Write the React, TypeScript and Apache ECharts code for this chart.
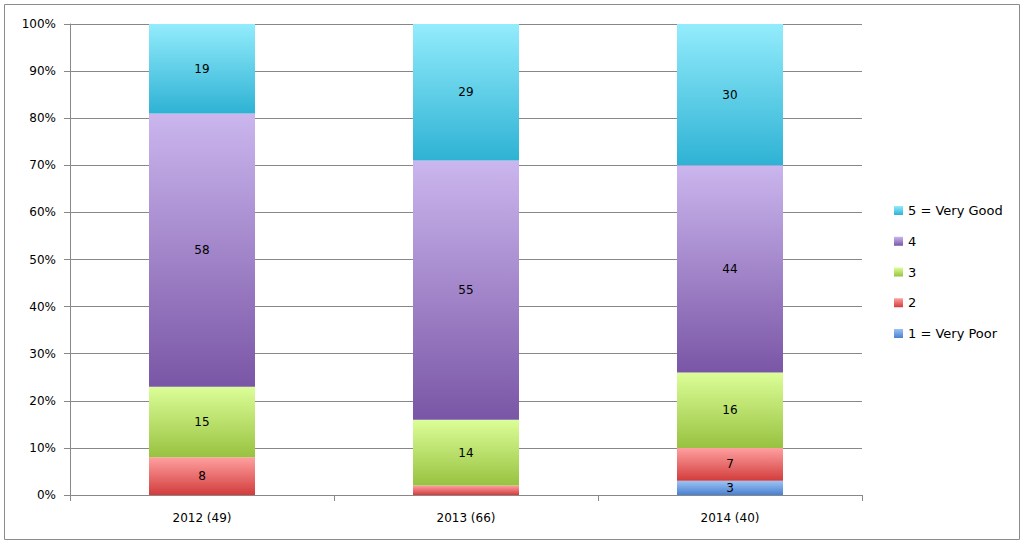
import React, { useEffect, useRef } from "react";
import * as echarts from "echarts";

const categories = ["2012 (49)", "2013 (66)", "2014 (40)"];
const seriesNames = ["1 = Very Poor", "2", "3", "4", "5 = Very Good"];
const veryPoor = [0, 0, 3];
const two = [8, 2, 7];
const three = [15, 14, 16];
const four = [58, 55, 44];
const veryGood = [19, 29, 30];
const hiddenLabels: number[][] = [[], [1], [], [], []];
const yTicks = [0, 10, 20, 30, 40, 50, 60, 70, 80, 90, 100];

const gradients = [
  ["#9cc3f5", "#4a80cf"],
  ["#ffa0a0", "#d23c3c"],
  ["#dcfe98", "#98c240"],
  ["#cbb6ee", "#7a56a6"],
  ["#93ecfc", "#2eb2d4"],
];

export default function App() {
  const ref = useRef<HTMLDivElement>(null);
  useEffect(() => {
    document.body.style.margin = "0";
    const chart = echarts.init(ref.current!, null, { renderer: "svg" });
    const all = [veryPoor, two, three, four, veryGood];
    const font = "DejaVu Sans";
    const series = all.map((vals, i) => ({
      name: seriesNames[i],
      type: "bar",
      stack: "total",
      barWidth: 106,
      itemStyle: {
        color: new echarts.graphic.LinearGradient(0, 0, 0, 1, [
          { offset: 0, color: gradients[i][0] },
          { offset: 1, color: gradients[i][1] },
        ]),
      },
      label: {
        show: true,
        position: "inside",
        color: "#000",
        fontFamily: font,
        fontSize: 12,
        formatter: (p: any) => (p.value ? String(p.value) : ""),
      },
      data: vals.map((v, j) =>
        hiddenLabels[i].includes(j) ? { value: v, label: { show: false } } : v
      ),
    }));
    chart.setOption({
      animation: false,
      graphic: [
        {
          type: "rect",
          shape: { x: 4.5, y: 4.5, width: 1015, height: 535 },
          style: { fill: "none", stroke: "#8c8c8c", lineWidth: 1 },
          silent: true,
        },
      ],
      grid: { left: 70, right: 162, top: 24, bottom: 53 },
      legend: {
        orient: "vertical",
        left: 889,
        top: 199,
        itemWidth: 9,
        itemHeight: 9,
        itemGap: 17.75,
        icon: "rect",
        data: [...seriesNames].reverse(),
        textStyle: { fontFamily: font, fontSize: 13, color: "#000" },
      },
      xAxis: {
        type: "category",
        data: categories,
        axisLine: { lineStyle: { color: "#888" } },
        axisTick: { show: true, length: 6, lineStyle: { color: "#888" } },
        axisLabel: { fontFamily: font, fontSize: 12, color: "#000", margin: 17 },
      },
      yAxis: {
        type: "value",
        min: yTicks[0],
        max: yTicks[yTicks.length - 1],
        interval: 10,
        axisLine: { show: true, lineStyle: { color: "#888" } },
        axisTick: { show: true, length: 6, lineStyle: { color: "#888" } },
        splitLine: { lineStyle: { color: "#888" } },
        axisLabel: {
          fontFamily: font,
          fontSize: 12,
          color: "#000",
          margin: 14,
          formatter: "{value}%",
        },
      },
      series,
    });
    return () => chart.dispose();
  }, []);
  return <div ref={ref} style={{ width: 1024, height: 548 }} />;
}
